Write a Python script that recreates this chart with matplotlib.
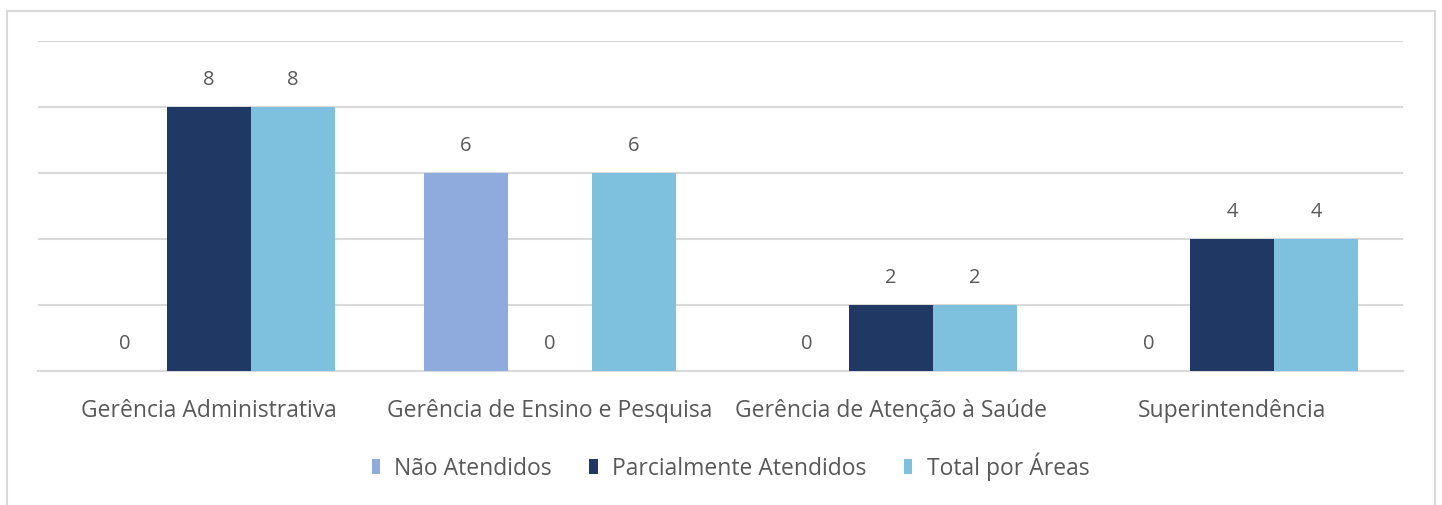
import matplotlib.pyplot as plt
import numpy as np
from matplotlib.lines import Line2D

categories = ['Gerência Administrativa', 'Gerência de Ensino e Pesquisa',
              'Gerência de Atenção à Saúde', 'Superintendência']
nao_atendidos = [0, 6, 0, 0]
parcialmente = [8, 0, 2, 4]
total_areas = [8, 6, 2, 4]
series_names = ['Não Atendidos', 'Parcialmente Atendidos', 'Total por Áreas']

colors = ['#8FAADC', '#203864', '#7DC1DE']
text_color = '#595959'
grid_color = '#D9D9D9'

plt.rcParams['font.family'] = ['Open Sans', 'DejaVu Sans']

fig = plt.figure(figsize=(14.42, 5.06), dpi=100)
ax = fig.add_axes([0.0264, 0.2648, 0.9466, 0.6522])

x = np.arange(len(categories))
w = 0.246
series = [nao_atendidos, parcialmente, total_areas]
for i, (vals, name, c) in enumerate(zip(series, series_names, colors)):
    pos = x + (i - 1) * w
    ax.bar(pos, vals, width=w, color=c, label=name, zorder=3)
    for xp, v in zip(pos, vals):
        ax.annotate(str(v), (xp, v), xytext=(0, 13), textcoords='offset points',
                    ha='center', va='bottom', fontsize=14.5, color=text_color)

ax.set_xlim(-0.5, len(categories) - 0.5)
ax.set_ylim(0, 10)
ax.set_yticks(np.arange(0, 11, 2))
ax.yaxis.grid(True, color=grid_color, linewidth=1.5, zorder=0)
ax.tick_params(axis='y', left=False, labelleft=False)
ax.tick_params(axis='x', bottom=False, pad=16, labelsize=16.5, labelcolor=text_color)
ax.set_xticks(x)
ax.set_xticklabels(categories)
for s in ['top', 'right', 'left']:
    ax.spines[s].set_visible(False)
ax.spines['bottom'].set_color(grid_color)
ax.spines['bottom'].set_linewidth(1.5)

leg = fig.legend(loc='center', bbox_to_anchor=(0.5065, 0.077), ncol=3, frameon=False,
                 fontsize=16.5, handlelength=0.36, handleheight=0.64, handletextpad=0.62,
                 columnspacing=1.65)
for t in leg.get_texts():
    t.set_color(text_color)

# outer chart frame (bottom edge cut off in the reference)
fx0, fx1, fy = 7 / 1442, 1435 / 1442, 1 - 12 / 506
for xs, ys in [([fx0, fx0], [0, fy]), ([fx0, fx1], [fy, fy]), ([fx1, fx1], [fy, 0])]:
    fig.add_artist(Line2D(xs, ys, transform=fig.transFigure, color='#D9D9D9', linewidth=1.5))

fig.savefig('out.png', dpi=100)
